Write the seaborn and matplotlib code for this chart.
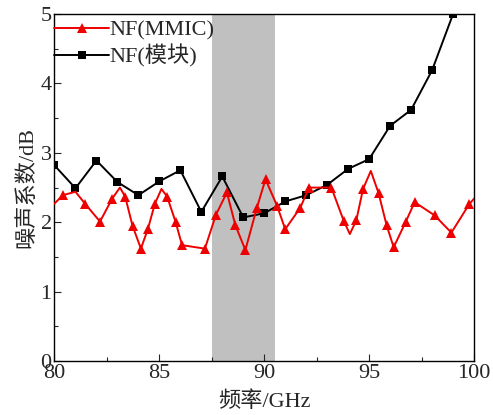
import numpy as np
import pandas as pd
import matplotlib
matplotlib.use("Agg")
import matplotlib.pyplot as plt
from matplotlib.ticker import MultipleLocator
from matplotlib.lines import Line2D
import seaborn as sns

# NF of the MMIC (red triangles)
mmic_freq = [80.0, 80.4, 81.0, 81.45, 82.17, 82.75, 83.12, 83.37, 83.72, 84.12,
             84.45, 84.79, 85.1, 85.37, 85.78, 86.08, 87.17, 87.7, 88.22, 88.62,
             89.1, 89.65, 90.06, 90.62, 91.0, 91.72, 92.13, 93.2, 93.79, 94.08,
             94.39, 94.71, 95.08, 95.45, 95.83, 96.17, 96.75, 97.17, 98.12, 98.92,
             99.77, 100.0]
mmic_nf = [2.27, 2.39, 2.44, 2.27, 2.01, 2.34, 2.50, 2.37, 1.95, 1.62,
           1.90, 2.27, 2.48, 2.37, 2.00, 1.67, 1.62, 2.11, 2.43, 1.96,
           1.60, 2.21, 2.62, 2.23, 1.90, 2.21, 2.50, 2.50, 2.02, 1.83,
           2.03, 2.48, 2.74, 2.42, 1.96, 1.64, 2.01, 2.29, 2.10, 1.85,
           2.26, 2.34]
# vertices that carry a triangle marker
mmic_marked = [1, 3, 4, 5, 7, 8, 9, 10, 11, 13, 14, 15, 16, 17, 18, 19, 20, 21,
               22, 23, 24, 25, 26, 27, 28, 30, 31, 33, 34, 35, 36, 37, 38, 39, 40]

# NF of the module (black squares)
mod_freq = [80, 81, 82, 83, 84, 85, 86, 87, 88, 89, 90, 91, 92, 93, 94, 95, 96, 97, 98, 99]
mod_nf = [2.82, 2.49, 2.89, 2.58, 2.39, 2.59, 2.75, 2.15, 2.66, 2.07,
          2.13, 2.30, 2.39, 2.54, 2.77, 2.91, 3.39, 3.62, 4.19, 5.0]

band = (87.5, 90.5)

sns.set_style("ticks")
plt.rcParams['font.family'] = ['Liberation Serif', 'Noto Sans CJK SC']
plt.rcParams['font.size'] = 16
plt.rcParams['axes.unicode_minus'] = False

fig = plt.figure(figsize=(4.93, 4.15), dpi=100)
ax = fig.add_axes([0.1105, 0.130, 0.851, 0.836])

ax.axvspan(band[0], band[1], color='#c0c0c0', lw=0, zorder=0)

mmic = pd.DataFrame({'f': mmic_freq, 'nf': mmic_nf})
mod = pd.DataFrame({'f': mod_freq, 'nf': mod_nf})

red = '#ee0000'
sns.lineplot(data=mmic, x='f', y='nf', ax=ax, color=red, lw=1.4,
             marker='^', markersize=7, markeredgewidth=0, markevery=mmic_marked,
             errorbar=None, zorder=3, legend=False)
sns.lineplot(data=mod, x='f', y='nf', ax=ax, color='black', lw=1.4,
             marker='s', markersize=5.5, markeredgewidth=0,
             errorbar=None, zorder=2, legend=False)

ax.set_xlim(80, 100)
ax.set_ylim(0, 5)
ax.xaxis.set_major_locator(MultipleLocator(5))
ax.xaxis.set_minor_locator(MultipleLocator(2.5))
ax.yaxis.set_major_locator(MultipleLocator(1))
ax.yaxis.set_minor_locator(MultipleLocator(0.5))
ax.tick_params(which='both', direction='in', top=False, right=False, labelsize=16, pad=2)
ax.tick_params(which='major', length=5, width=0.8)
ax.tick_params(which='minor', length=3, width=0.8)
for s in ax.spines.values():
    s.set_linewidth(1.0)
    s.set_color('black')

ax.set_xlabel('频率/GHz', fontsize=16, labelpad=6)
ax.set_ylabel('噪声系数/dB', fontsize=16, labelpad=2)

handles = [
    Line2D([], [], color=red, lw=1.4, marker='^', markersize=7, markeredgewidth=0),
    Line2D([], [], color='black', lw=1.4, marker='s', markersize=5.5, markeredgewidth=0),
]
ax.legend(handles, ['NF(MMIC)', 'NF(模块)'], loc='upper left',
          bbox_to_anchor=(0.0, 0.982), frameon=False, fontsize=16,
          handlelength=2.45, handletextpad=0.0, labelspacing=0.15,
          borderaxespad=0.0, borderpad=0.0)

fig.savefig('out.png', dpi=100)
